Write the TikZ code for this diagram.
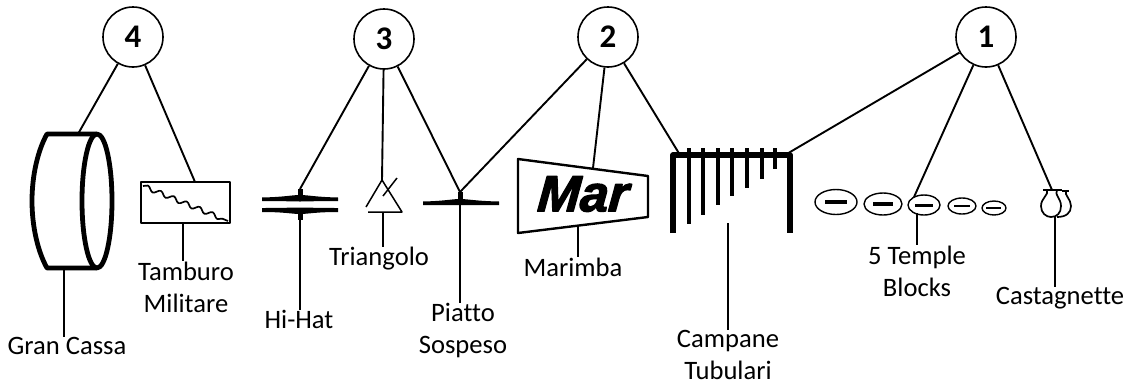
\documentclass[tikz,border=0pt]{standalone}
\usepackage{fontspec}
\setmainfont{Carlito}[Ligatures=NoCommon]
\newfontfamily\marfont{Liberation Sans}[BoldItalicFeatures={FakeBold=2.5,FakeSlant=0.08}]
\usetikzlibrary{calc,decorations.pathmorphing}
\tikzset{
  player/.style={draw,circle,line width=1.6pt,minimum size=60pt,inner sep=0pt,font=\fontsize{33}{33}\selectfont\bfseries},
  wire/.style={line width=1.9pt},
  heavy/.style={line width=4.8pt},
  tube/.style={line width=4.2pt},
  label/.style={inner sep=0pt,align=center,font=\fontsize{26.6}{32}\selectfont},
  block/.style={line width=1.4pt},
  stopper/.style={line width=3pt}
}

\begin{document}
\begin{tikzpicture}[x=1pt,y=-1pt,line join=round]
\useasboundingbox (0,0) rectangle (1132,386);

\node[player] (four) at (133,37) {4};
\node[player] (three) at (384,39) {3};
\node[player] (two) at (608,37) {2};
\node[player] (one) at (986,37) {1};

\node[label] (cassaLbl) at (67,346) {Gran Cassa};
\node[label] (tamburoLbl) at (186,287) {Tamburo\\Militare};
\node[label] (hihatLbl) at (299,319) {Hi-Hat};
\node[label] (triangoloLbl) at (379,259) {Triangolo};
\node[label] (piattoLbl) at (463,330) {Piatto\\Sospeso};
\node[label] (marimbaLbl) at (573,267) {Marimba};
\node[label] (campaneLbl) at (728,355) {Campane\\Tubulari};
\node[label] (templeLbl) at (917,271) {5 Temple\\Blocks};
\node[label] (castaLbl) at (1060,298) {Castagnette};

\coordinate (cassaTop) at (78,134);
\coordinate (cassaBot) at (64,268);
\coordinate (tamburoTop) at (195,182);
\coordinate (tamburoBot) at (183,223);
\coordinate (hihatTop) at (300,189);
\coordinate (hihatBot) at (300,220);
\coordinate (triTop) at (382,180);
\coordinate (triBot) at (383,212);
\coordinate (piattoTop) at (460,192);
\coordinate (piattoBot) at (460,203);
\coordinate (marTop) at (593,168);
\coordinate (marBot) at (578,225);
\coordinate (campLeft) at (680,155);
\coordinate (campRight) at (785,155);
\coordinate (campBot) at (728,223);
\coordinate (templeTop) at (914,197);
\coordinate (templeBot) at (917,213);
\coordinate (castaTop) at (1052,190);
\coordinate (castaBot) at (1055,217);

\draw[heavy] (97,134) -- (47,134) .. controls (38,150) and (32,175) .. (32,201) .. controls (32,227) and (38,252) .. (47,268) -- (97,268);
\draw[heavy] (97,201) ellipse [x radius=15,y radius=67];

\draw[line width=1.9pt] (141,182) rectangle (230,223);
\draw[line width=1.7pt,decorate,decoration={snake,amplitude=2.3pt,segment length=14pt}] (143,186) -- (228,221);

\fill (262,197.5) .. controls (285,197) and (292,195) .. (300,195) .. controls (308,195) and (315,197) .. (338,197.5) -- (338,201) .. controls (315,201) and (308,201.5) .. (300,201.5) .. controls (292,201.5) and (285,201) .. (262,201) -- cycle;
\fill (262,208) .. controls (285,208) and (292,207.5) .. (300,207.5) .. controls (308,207.5) and (315,208) .. (338,208) -- (338,212) .. controls (315,212) and (308,214) .. (300,214) .. controls (292,214) and (285,212) .. (262,212) -- cycle;
\draw[stopper,line width=5pt] (hihatTop) -- (300,196);
\draw[stopper,line width=5pt] (300,213) -- (hihatBot);

\draw[wire,line width=1.5pt] (366,207) -- (triTop) -- (402,212) -- (368,212);
\draw[wire,line width=1.5pt] (397,178) -- (383,196);

\fill (423,201.5) .. controls (445,201) and (452,199) .. (460,199) .. controls (468,199) and (475,201) .. (499,201.5) -- (499,205) .. controls (475,205) and (468,205) .. (460,205) .. controls (452,205) and (445,205) .. (423,205) -- cycle;
\draw[stopper,line width=5pt] (piattoTop) -- (460,200);

\draw[line width=2.4pt] (518,159) -- (648,176) -- (648,217) -- (518,233) -- cycle;
\node[inner sep=0pt,font=\fontsize{51}{51}\selectfont\marfont\bfseries\itshape] (marName) at (582,194) {Mar};

\draw[heavy,line width=5.4pt] (673,233) -- (673,155) -- (790,155) -- (790,233);
\draw[tube] (689,148) -- (689,224);
\draw[tube] (703,148) -- (703,215);
\draw[tube] (718,148) -- (718,205);
\draw[tube] (732,148) -- (732,196);
\draw[tube] (747,148) -- (747,188);
\draw[tube] (762,148) -- (762,179);
\draw[tube] (775,148) -- (775,169);

\draw[block] (836,202) ellipse [x radius=21,y radius=12.5];
\draw[block] (883,204) ellipse [x radius=19,y radius=11];
\draw[block] (924,205) ellipse [x radius=16,y radius=10];
\draw[block] (962,206) ellipse [x radius=14,y radius=8];
\draw[block] (994,208) ellipse [x radius=12,y radius=7];
\draw[line width=3.4pt] (825,202) -- (847,202);
\draw[line width=3.2pt] (873,204) -- (893,204);
\draw[line width=3pt] (915,205) -- (933,205);
\draw[line width=2.8pt] (954,206) -- (970,206);
\draw[line width=2.4pt] (986,208) -- (1001,208);

\draw[line width=1.7pt] (1043,190) -- (1062,190);
\draw[line width=1.7pt] (1047,190) .. controls (1049,195) and (1041,198) .. (1041,206) .. controls (1041,213) and (1046,217) .. (1051,217) .. controls (1057,217) and (1061,213) .. (1061,206) .. controls (1061,198) and (1054,195) .. (1057,190);
\draw[line width=1.7pt] (1062,191) -- (1069,191);
\draw[line width=1.7pt] (1066,191) .. controls (1064,195) and (1071,199) .. (1071,206) .. controls (1071,213) and (1066,217) .. (1057,217);

\draw[wire] (four) -- (cassaTop);
\draw[wire] (four) -- (tamburoTop);
\draw[wire] (three) -- (hihatTop);
\draw[wire] (three) -- (triTop);
\draw[wire] (three) -- (piattoTop);
\draw[wire] (two) -- (piattoTop);
\draw[wire] (two) -- (marTop);
\draw[wire] (two) -- (campLeft);
\draw[wire] (one) -- (campRight);
\draw[wire] (one) -- (templeTop);
\draw[wire] (one) -- (castaTop);

\draw[wire] (cassaBot) -- (cassaBot |- cassaLbl.north);
\draw[wire] (tamburoBot) -- (tamburoBot |- tamburoLbl.north);
\draw[wire] (hihatBot) -- (hihatBot |- hihatLbl.north);
\draw[wire] (triBot) -- (triBot |- triangoloLbl.north);
\draw[wire] (piattoBot) -- (piattoBot |- piattoLbl.north);
\draw[wire] (marBot) -- (marBot |- marimbaLbl.north);
\draw[wire] (campBot) -- (campBot |- campaneLbl.north);
\draw[wire] (templeBot) -- (templeBot |- templeLbl.north);
\draw[wire] (castaBot) -- (castaBot |- castaLbl.north);

\end{tikzpicture}
\end{document}
